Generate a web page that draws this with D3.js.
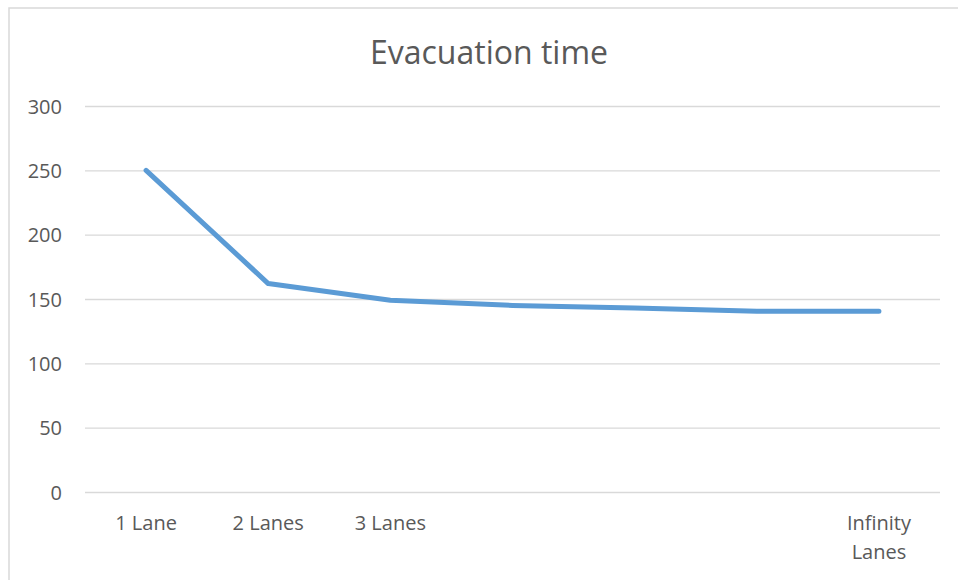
<!DOCTYPE html>
<html><head><meta charset="utf-8">
<script src="https://cdn.jsdelivr.net/npm/d3@7"></script>
<style>body{margin:0;background:#fff;} svg{display:block;}</style>
</head><body>
<svg id="c" width="958" height="580"></svg>
<script>
const categories = [["1 Lane"], ["2 Lanes"], ["3 Lanes"], [""], [""], [""], ["Infinity", "Lanes"]];
const values = [250, 162, 149, 145, 143, 140.5, 140.5];
const yTicks = [0, 50, 100, 150, 200, 250, 300];
const title = "Evacuation time";

(function () {
const svg = d3.select("#c");
const font = "'Open Sans', sans-serif";
const textColor = "#595959";

svg.append("rect").attr("x", 9).attr("y", 8).attr("width", 960).attr("height", 590)
  .attr("fill", "#fff").attr("stroke", "#d9d9d9").attr("stroke-width", 1.5);

const pLeft = 85, pRight = 940, pTop = 106, pBottom = 492;
const x = d3.scalePoint().domain(d3.range(categories.length)).range([pLeft, pRight]).padding(0.5);
const y = d3.scaleLinear().domain([0, 300]).range([pBottom, pTop]);

svg.append("text").attr("x", 489).attr("y", 64).attr("text-anchor", "middle")
  .attr("font-family", font).attr("font-size", 32).attr("fill", textColor).text(title);

const yAxis = d3.axisLeft(y).tickValues(yTicks).tickSize(-(pRight - pLeft)).tickPadding(23);
const gy = svg.append("g").attr("transform", `translate(${pLeft},0)`).call(yAxis);
gy.select(".domain").remove();
gy.selectAll(".tick line").attr("stroke", "#d9d9d9").attr("stroke-width", 1.3);
gy.selectAll(".tick text").attr("font-family", font).attr("font-size", 20).attr("fill", textColor).attr("dy", "0.35em");

const gx = svg.append("g");
categories.forEach((lines, i) => {
  const t = gx.append("text").attr("text-anchor", "middle").attr("font-family", font)
    .attr("font-size", 20).attr("fill", textColor);
  lines.forEach((ln, j) => {
    t.append("tspan").attr("x", x(i)).attr("y", 530 + j * 29).text(ln);
  });
});

const line = d3.line().x((d, i) => x(i)).y(d => y(d));
svg.append("path").datum(values).attr("d", line).attr("fill", "none")
  .attr("stroke", "#5b9bd5").attr("stroke-width", 5).attr("stroke-linecap", "round").attr("stroke-linejoin", "round");
})();
</script>
</body></html>
